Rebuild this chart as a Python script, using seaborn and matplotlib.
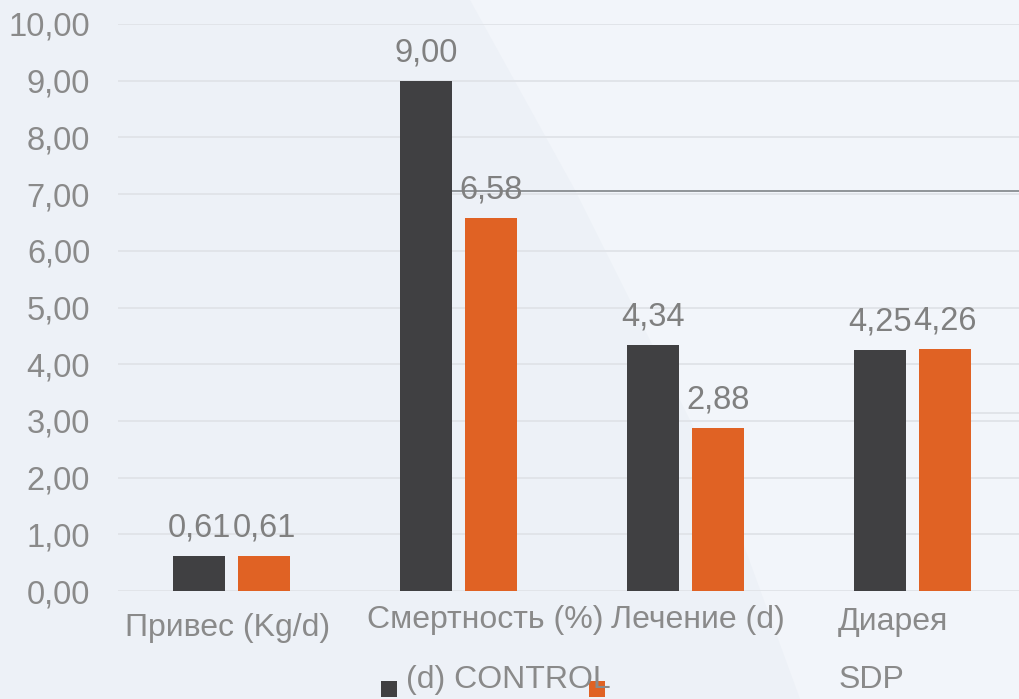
import matplotlib
matplotlib.use("Agg")
import matplotlib.pyplot as plt
import matplotlib.transforms as mtransforms
from matplotlib.patches import Polygon, Rectangle
import pandas as pd
import seaborn as sns

# Data
categories = ["Привес (Kg/d)", "Смертность (%)", "Лечение (d)", "Диарея"]
groups = ["(d) CONTROL", "SDP"]
control_values = [0.61, 9.00, 4.34, 4.25]
sdp_values = [0.61, 6.58, 2.88, 4.26]
y_ticks = [0, 1, 2, 3, 4, 5, 6, 7, 8, 9, 10]
reference_level = 7.05

colors = ["#404042", "#E06224"]
text_grey = "#8A8A8A"
grid_grey = "#E1E4E9"

df = pd.DataFrame({
    "category": categories * 2,
    "group": [groups[0]] * len(categories) + [groups[1]] * len(categories),
    "value": control_values + sdp_values,
})

sns.set_theme(style="white")
plt.rcParams["font.family"] = ["Liberation Sans", "DejaVu Sans"]

fig = plt.figure(figsize=(10.2, 6.99), dpi=100)
fig.patch.set_facecolor("#EDF1F7")

# lighter diagonal band in the background
band = Polygon(
    [(470 / 1020, 1.0), (575 / 1020, 1 - 190 / 699), (640 / 1020, 1 - 320 / 699),
     (720 / 1020, 1 - 480 / 699), (800 / 1020, 0.0), (1.0, 0.0), (1.0, 1.0)],
    closed=True, transform=fig.transFigure, facecolor="#F2F5FA",
    edgecolor="none", zorder=-10)
fig.patches.append(band)

ax = fig.add_axes([118 / 1020, 1 - 591 / 699, 908 / 1020, (591 - 24) / 699])
ax.set_facecolor("none")

sns.barplot(data=df, x="category", y="value", hue="group", order=categories,
            hue_order=groups, palette=colors, width=0.573, gap=0.214,
            saturation=1, linewidth=0, legend=False, ax=ax, zorder=3)

ax.set_xlim(-0.5, 3.5)
ax.set_ylim(0, 10)
ax.set_yticks(y_ticks)
ax.set_yticklabels([f"{v:.2f}".replace(".", ",") for v in y_ticks])
ax.set_xlabel("")
ax.set_ylabel("")
for s in ax.spines.values():
    s.set_visible(False)

ax.yaxis.grid(True, color=grid_grey, linewidth=1.4, zorder=0)
ax.set_axisbelow(True)
ax.tick_params(axis="y", length=0, pad=20, labelsize=23.5, labelcolor=text_grey)
ax.tick_params(axis="x", length=0, pad=10, labelsize=23, labelcolor=text_grey)

# individual nudges for the category labels
x_shifts = [(-4, -8), (27, 0), (12, 0), (-20, -2)]
for lab, (dx, dy) in zip(ax.get_xticklabels(), x_shifts):
    lab.set_transform(lab.get_transform() + mtransforms.ScaledTranslation(
        dx / 100, dy / 100, fig.dpi_scale_trans))

# reference line running behind the bars
ax.hlines(reference_level, 0.96, 3.5, color="#7F8387", linewidth=1.2, zorder=2)
ax.hlines(3.14, 3.256, 3.5, color=grid_grey, linewidth=1.4, zorder=2)

# value labels
for cont in ax.containers:
    ax.bar_label(cont, labels=[f"{v:.2f}".replace(".", ",") for v in cont.datavalues],
                 padding=9, fontsize=23.5, color="#808080", zorder=5)

# legend drawn as plain marks and text
legend_y = 1 - 680 / 699
sq = 16
fig.patches.append(Rectangle((381 / 1020, 1 - 697 / 699), sq / 1020, sq / 699,
                             transform=fig.transFigure, facecolor=colors[0],
                             edgecolor="none", zorder=1))
fig.patches.append(Rectangle((589 / 1020, 1 - 697 / 699), sq / 1020, sq / 699,
                             transform=fig.transFigure, facecolor=colors[1],
                             edgecolor="none", zorder=1))
fig.text(406 / 1020, legend_y, groups[0], fontsize=23, color=text_grey,
         va="center", ha="left", zorder=4)
fig.text(839 / 1020, legend_y, groups[1], fontsize=23, color=text_grey,
         va="center", ha="left", zorder=4)

fig.savefig("out.png", dpi=100, facecolor=fig.get_facecolor())
